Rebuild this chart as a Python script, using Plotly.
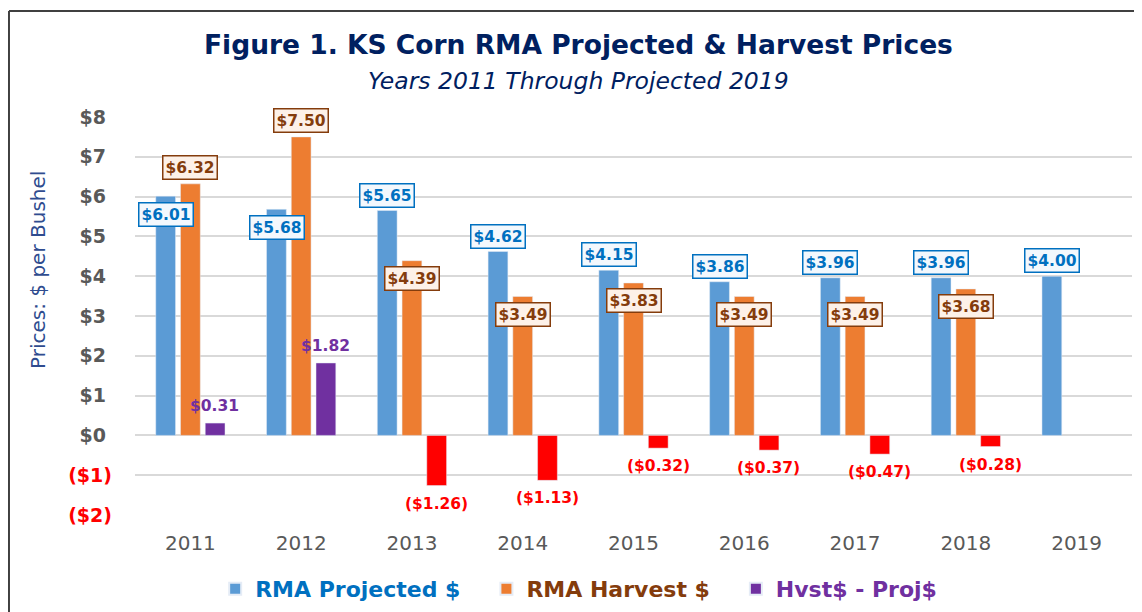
import plotly.graph_objects as go

# ---------------- data ----------------
years = ["2011", "2012", "2013", "2014", "2015", "2016", "2017", "2018", "2019"]
projected = [6.01, 5.68, 5.65, 4.62, 4.15, 3.86, 3.96, 3.96, 4.00]
harvest = [6.32, 7.50, 4.39, 3.49, 3.83, 3.49, 3.49, 3.68, None]
difference = [0.31, 1.82, -1.26, -1.13, -0.32, -0.37, -0.47, -0.28, None]
ytick_vals = [-2, -1, 0, 1, 2, 3, 4, 5, 6, 7, 8]

# label placement style (in = just inside bar top, out = above bar)
proj_label_pos = ["in", "in", "out", "out", "out", "out", "out", "out", "out"]
harv_label_pos = ["out", "out", "in", "in", "in", "in", "in", "in", "in"]

BLUE = "#5B9BD5"
ORANGE = "#ED7D31"
PURPLE = "#7030A0"
RED = "#FF0000"
BLUE_TXT = "#0070C0"
BROWN_TXT = "#843C0C"
NAVY = "#002060"
GRAY = "#595959"
FONT = "DejaVu Sans"
PAD = "\u00a0" * 3  # extra spacing between legend entries


def money(v):
    return f"(${abs(v):.2f})" if v < 0 else f"${v:.2f}"


def tick_label(v):
    if v < 0:
        return f"<span style='color:{RED}'><b>(${abs(v)})</b></span>"
    return f"<b>${v}</b>\u00a0"


diff_colors = [PURPLE if (d is not None and d >= 0) else RED for d in difference]

fig = go.Figure()
fig.add_trace(go.Bar(x=years, y=projected, marker_color=BLUE,
                     name=f"<span style='color:{BLUE_TXT}'><b>RMA Projected $</b></span>{PAD}"))
fig.add_trace(go.Bar(x=years, y=harvest, marker_color=ORANGE,
                     name=f"<span style='color:{BROWN_TXT}'><b>RMA Harvest $</b></span>{PAD}"))
fig.add_trace(go.Bar(x=years, y=difference, marker_color=diff_colors,
                     name=f"<span style='color:{PURPLE}'><b>Hvst$ - Proj$</b></span>"))

# slot offset in px between grouped bars
SLOT = 24.6

annotations = []
for i, (v, pos) in enumerate(zip(projected, proj_label_pos)):
    if v is None:
        continue
    annotations.append(dict(
        x=i, y=v, xref="x", yref="y", xshift=-SLOT,
        yanchor="top" if pos == "in" else "bottom",
        yshift=-6 if pos == "in" else 3,
        text=f"<b>{money(v)}</b>", showarrow=False,
        font=dict(family=FONT, size=15.5, color=BLUE_TXT),
        bgcolor="#F3F8FD", bordercolor=BLUE_TXT, borderwidth=1.5, borderpad=2))
for i, (v, pos) in enumerate(zip(harvest, harv_label_pos)):
    if v is None:
        continue
    annotations.append(dict(
        x=i, y=v, xref="x", yref="y", xshift=0,
        yanchor="top" if pos == "in" else "bottom",
        yshift=-5 if pos == "in" else 4,
        text=f"<b>{money(v)}</b>", showarrow=False,
        font=dict(family=FONT, size=15.5, color=BROWN_TXT),
        bgcolor="#FDF1E8", bordercolor=BROWN_TXT, borderwidth=1.5, borderpad=2))
for i, v in enumerate(difference):
    if v is None:
        continue
    annotations.append(dict(
        x=i, y=v, xref="x", yref="y", xshift=SLOT,
        yanchor="bottom" if v >= 0 else "top",
        yshift=6 if v >= 0 else -7,
        text=f"<b>{money(v)}</b>", showarrow=False,
        font=dict(family=FONT, size=15.5, color=PURPLE if v >= 0 else RED)))

# titles
annotations.append(dict(
    x=0.4453, y=1.183, xref="paper", yref="paper", showarrow=False,
    text="<b>Figure 1. KS Corn RMA Projected &amp; Harvest Prices</b>",
    font=dict(family=FONT, size=26.5, color=NAVY), xanchor="center", yanchor="middle"))
annotations.append(dict(
    x=0.4453, y=1.0905, xref="paper", yref="paper", showarrow=False,
    text="<i>Years 2011 Through Projected 2019</i>",
    font=dict(family=FONT, size=23.5, color=NAVY), xanchor="center", yanchor="middle"))
# y-axis title
annotations.append(dict(
    x=-0.0973, y=0.6156, xref="paper", yref="paper", showarrow=False, textangle=-90,
    text="Prices: $ per Bushel",
    font=dict(family=FONT, size=20, color="#2F4C8F"), xanchor="center", yanchor="middle"))

fig.update_layout(
    width=1134, height=604,
    margin=dict(l=127, r=10, t=109, b=97, autoexpand=False),
    paper_bgcolor="white", plot_bgcolor="white",
    barmode="group", bargap=0.33, bargroupgap=0.2,
    font=dict(family=FONT, color=GRAY),
    annotations=annotations,
    showlegend=True,
    legend=dict(orientation="h", x=0.445, xanchor="center", y=-0.186, yanchor="middle",
                font=dict(family=FONT, size=22), traceorder="normal",
                itemsizing="constant", bgcolor="rgba(0,0,0,0)"),
    shapes=[
        dict(type="line", xref="paper", yref="paper", x0=-0.1264, x1=1.02, y0=1.2663, y1=1.2663,
             line=dict(color="#404040", width=2)),
        dict(type="line", xref="paper", yref="paper", x0=-0.1264, x1=-0.1264, y0=1.2663, y1=-0.3,
             line=dict(color="#404040", width=2)),
    ],
)
fig.update_xaxes(type="category", range=[-0.5, len(years) - 0.5], autorange=False,
                 automargin=False, showgrid=False, showline=False, ticks="",
                 tickfont=dict(family=FONT, size=20, color=GRAY), ticklabelstandoff=14)
fig.update_yaxes(range=[-2, 8], autorange=False, automargin=False,
                 tickvals=ytick_vals, ticktext=[tick_label(v) for v in ytick_vals],
                 tickfont=dict(family=FONT, size=19, color=GRAY),
                 showgrid=True, gridcolor="#D9D9D9", gridwidth=1.5,
                 zeroline=True, zerolinecolor="#D9D9D9", zerolinewidth=1.5,
                 showline=False, ticks="", ticklabelstandoff=22)

fig.write_html("out.html")
